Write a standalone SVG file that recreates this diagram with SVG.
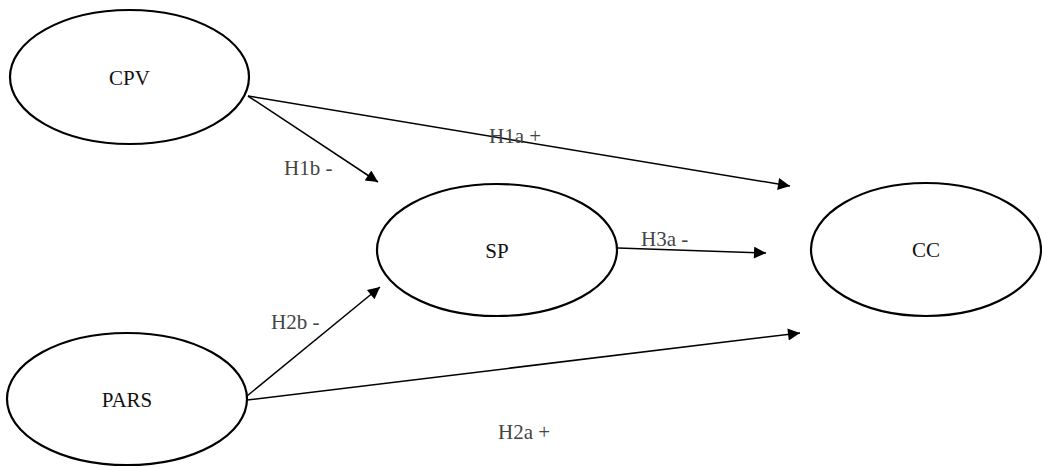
<svg xmlns="http://www.w3.org/2000/svg" width="1042" height="467" viewBox="0 0 1042 467">
<style>
.node ellipse{fill:#fff;stroke:#000;stroke-width:2.2}
.node text{font-family:"Liberation Serif","Times New Roman",serif;font-size:21px;fill:#111;text-anchor:middle}
.edge line{stroke:#000;stroke-width:1.5;marker-end:url(#ah)}
.lbl{font-family:"Liberation Serif","Times New Roman",serif;font-size:21px;fill:#444}
</style>
<defs>
<marker id="ah" viewBox="0 0 10 10" refX="10" refY="5" markerWidth="16" markerHeight="12" markerUnits="userSpaceOnUse" orient="auto">
<path d="M0,0 L10,5 L0,10 z" fill="#000"/>
</marker>
</defs>
<rect width="1042" height="467" fill="#fff"/>
<g id="connectors" class="edge">
<line x1="248" y1="96" x2="378" y2="182"/>
<line x1="248" y1="96" x2="790" y2="186"/>
<line x1="618" y1="248" x2="766" y2="253"/>
<line x1="247" y1="396" x2="380" y2="287"/>
<line x1="247" y1="400" x2="800" y2="333"/>
<text class="lbl" x="489" y="143">H1a +</text>
<text class="lbl" x="284" y="175">H1b -</text>
<text class="lbl" x="641" y="246">H3a -</text>
<text class="lbl" x="271" y="329">H2b -</text>
<text class="lbl" x="498" y="439">H2a +</text>
</g>
<g id="CPV" class="node"><ellipse cx="129.5" cy="77" rx="119.5" ry="67"/><text x="129.5" y="85">CPV</text></g>
<g id="SP" class="node"><ellipse cx="497" cy="250" rx="120" ry="66"/><text x="497" y="258">SP</text></g>
<g id="CC" class="node"><ellipse cx="926" cy="249.5" rx="115" ry="66.5"/><text x="926" y="257">CC</text></g>
<g id="PARS" class="node"><ellipse cx="127" cy="399" rx="120" ry="66"/><text x="127" y="407">PARS</text></g>
</svg>
